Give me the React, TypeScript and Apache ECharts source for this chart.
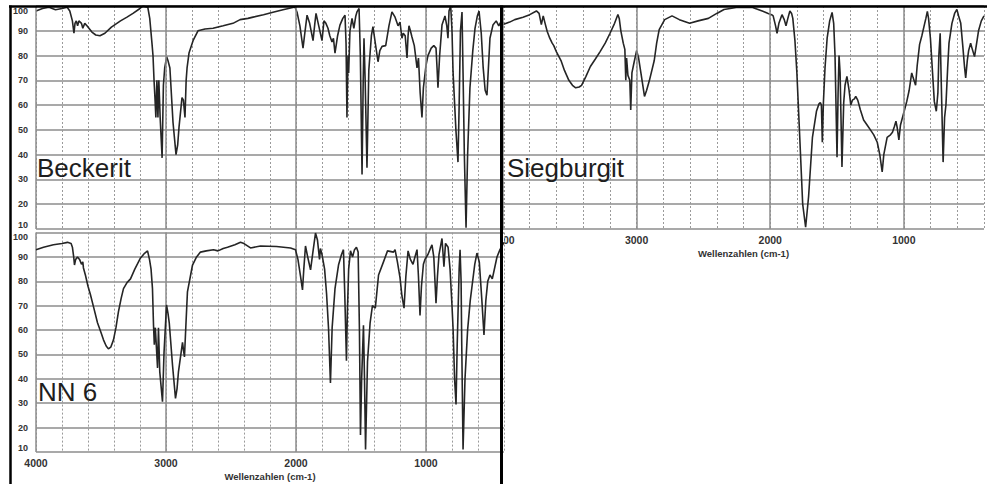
import React, { useEffect, useRef } from "react";
import * as echarts from "echarts";

const FONT = '"Liberation Sans", Arial, Helvetica, sans-serif';

const panelNames = ["Beckerit", "Siegburgit", "NN 6"];
const axisTitle = "Wellenzahlen (cm-1)";

// [wavenumber cm-1, transmission %]
const beckerit: number[][] = [
  [4000, 98], [3950, 99], [3900, 99.5], [3850, 98.5], [3800, 99], [3760, 99.5], [3740, 98], [3720, 94],
  [3708, 89], [3700, 93], [3690, 94], [3680, 92], [3670, 94], [3650, 93], [3640, 91], [3625, 93],
  [3608, 92], [3570, 89.5], [3540, 88.3], [3508, 88], [3470, 89], [3420, 91.5], [3350, 94], [3300, 95.5],
  [3254, 97], [3200, 99], [3177, 100], [3140, 99.5], [3125, 95], [3108, 85], [3100, 80], [3092, 70],
  [3085, 63], [3078, 55], [3070, 70], [3062, 55], [3055, 70], [3045, 55], [3030, 38.7], [3020, 68],
  [3010, 75], [2995, 79.5], [2985, 78], [2970, 75], [2946, 53], [2923, 40], [2910, 44], [2900, 51],
  [2877, 63], [2866, 62], [2854, 55], [2845, 70], [2838, 75], [2823, 81], [2792, 86], [2754, 90],
  [2700, 90.7], [2638, 91], [2560, 92], [2485, 93], [2430, 94.5], [2370, 95], [2330, 95.5], [2250, 96.5],
  [2177, 97.5], [2100, 98.5], [2008, 99.6], [1992, 97.5], [1970, 92], [1946, 83], [1930, 90], [1915, 96.3],
  [1895, 93], [1869, 86], [1855, 93], [1846, 97], [1825, 92], [1800, 86], [1785, 94], [1770, 93],
  [1754, 91], [1740, 88], [1723, 85.5], [1712, 87], [1700, 81], [1680, 88], [1662, 92.3], [1640, 95],
  [1623, 96.3], [1615, 85], [1608, 55], [1600, 80], [1595, 73], [1585, 90], [1569, 95], [1555, 91],
  [1540, 96], [1531, 97.6], [1515, 99], [1505, 80], [1492, 32], [1483, 70], [1477, 87], [1468, 70],
  [1454, 34.7], [1440, 74], [1420, 88], [1408, 91.7], [1390, 85], [1369, 77.5], [1355, 82], [1338, 83.7],
  [1310, 84], [1285, 92], [1262, 97.6], [1238, 95.5], [1215, 92], [1200, 93.5], [1192, 90], [1185, 87],
  [1175, 89], [1160, 88], [1146, 79], [1138, 88], [1131, 92], [1120, 90], [1108, 87.5], [1090, 84],
  [1069, 75], [1058, 79], [1045, 65], [1031, 55], [1020, 67], [1000, 76], [985, 80], [960, 83],
  [940, 84], [923, 83], [915, 75], [908, 67], [895, 80], [877, 92.3], [854, 96], [840, 92],
  [831, 87], [823, 98], [810, 100], [800, 90], [792, 73.5], [770, 50], [754, 37], [745, 60],
  [735, 90], [723, 97.6], [715, 73], [705, 40], [692, 10.5], [680, 40], [662, 67], [640, 82],
  [623, 91], [605, 96], [592, 98], [575, 89], [560, 75], [545, 66], [531, 64], [520, 75],
  [508, 87], [485, 92.3], [460, 94], [440, 92], [420, 94], [405, 93],
];

const siegburgit: number[][] = [
  [4000, 92.5], [3950, 93.5], [3912, 94.5], [3850, 95.5], [3800, 96.5], [3750, 98], [3730, 97], [3713, 92.5],
  [3699, 96], [3685, 93], [3669, 89.7], [3650, 87], [3632, 85], [3620, 84], [3600, 81.5], [3566, 78],
  [3540, 74], [3507, 70], [3480, 68], [3456, 67], [3430, 67.3], [3412, 68], [3380, 71.5], [3346, 75.6],
  [3310, 78.5], [3272, 81.7], [3235, 85], [3199, 89], [3165, 93], [3140, 96.6], [3130, 95], [3118, 90],
  [3100, 85], [3088, 82.5], [3081, 70], [3075, 79], [3065, 72], [3051, 70], [3044, 58], [3035, 73],
  [3020, 77], [3000, 82], [2985, 79], [2965, 72], [2941, 63.5], [2925, 66], [2904, 70], [2868, 78],
  [2850, 85], [2831, 90.5], [2790, 94.5], [2735, 96], [2680, 94.5], [2603, 93], [2540, 94], [2463, 95],
  [2400, 97], [2346, 98.6], [2243, 99.5], [2132, 99.4], [2060, 98], [2015, 97], [1990, 96.5], [1978, 96],
  [1960, 92], [1949, 89], [1935, 93], [1912, 96.5], [1895, 94.5], [1882, 92], [1868, 95], [1853, 98],
  [1840, 97], [1831, 95], [1815, 86], [1801, 73.6], [1779, 47], [1757, 20], [1735, 10.7], [1713, 23],
  [1684, 47], [1654, 57.5], [1635, 60.5], [1625, 61], [1617, 60], [1610, 45], [1602, 61], [1590, 75],
  [1574, 87], [1555, 94], [1537, 97.4], [1525, 93], [1515, 80], [1500, 39], [1492, 65], [1485, 80],
  [1477, 73], [1463, 35], [1450, 61], [1440, 68], [1426, 71.6], [1410, 66], [1397, 60], [1385, 62],
  [1370, 62.5], [1360, 63.5], [1345, 62], [1325, 58], [1301, 54], [1275, 52], [1250, 50], [1225, 48],
  [1199, 45], [1180, 40], [1162, 33], [1150, 40], [1125, 47], [1100, 48], [1085, 49], [1070, 51.5],
  [1059, 53.5], [1050, 51], [1037, 46], [1025, 52], [1000, 57], [978, 61.5], [960, 66], [941, 73],
  [930, 71], [912, 68], [900, 76], [882, 84.5], [865, 88], [846, 92.5], [835, 95], [824, 97.8],
  [815, 95], [801, 87], [785, 73], [772, 61.5], [757, 57.5], [745, 65], [738, 80], [728, 89],
  [722, 74], [706, 37], [695, 55], [685, 60], [672, 75], [662, 85], [640, 93], [620, 97],
  [603, 98.6], [590, 96], [574, 93], [559, 84], [545, 75], [537, 71], [525, 78], [515, 82],
  [500, 85], [490, 83], [471, 79.6], [455, 85], [441, 90], [420, 94], [400, 96],
];

const nn6: number[][] = [
  [4000, 93], [3942, 94], [3866, 95], [3800, 95.5], [3758, 96], [3730, 95.5], [3720, 94], [3710, 90],
  [3704, 86.7], [3695, 89], [3681, 90], [3665, 89], [3650, 87], [3640, 88], [3635, 85.5], [3620, 82.6],
  [3600, 78], [3581, 74.5], [3555, 69], [3527, 63], [3500, 59], [3481, 56], [3460, 53.5], [3443, 52.3],
  [3425, 53], [3404, 56], [3385, 61], [3366, 67.5], [3345, 73], [3327, 77], [3300, 79.5], [3273, 81],
  [3240, 85], [3196, 89.6], [3165, 91.5], [3142, 92.5], [3127, 89], [3115, 85], [3104, 77], [3096, 62],
  [3090, 54], [3082, 61], [3065, 44.5], [3058, 61], [3048, 43], [3027, 30.6], [3015, 51], [2996, 70.3],
  [2985, 67], [2975, 63], [2950, 45.7], [2927, 32], [2915, 36], [2904, 43], [2873, 55], [2866, 52],
  [2858, 49], [2847, 62], [2835, 75.7], [2796, 86.7], [2765, 90], [2735, 92], [2690, 92.5], [2635, 93],
  [2600, 92.5], [2560, 93.5], [2527, 94], [2470, 95], [2427, 96], [2400, 95.5], [2350, 93.7], [2273, 94.5],
  [2150, 94.3], [2042, 93.7], [2004, 93], [1985, 89], [1965, 82], [1950, 76.5], [1940, 85], [1927, 94.5],
  [1910, 90], [1888, 84.7], [1870, 92], [1850, 99.8], [1835, 97], [1819, 89], [1812, 93.5], [1800, 91],
  [1780, 85], [1765, 75], [1750, 61], [1735, 38.3], [1722, 61], [1700, 77], [1673, 86.7], [1650, 91],
  [1635, 93], [1625, 75], [1612, 47.4], [1605, 67], [1595, 85], [1581, 92.5], [1565, 90], [1550, 93],
  [1535, 94], [1522, 92], [1512, 60], [1504, 17], [1495, 40], [1481, 62], [1473, 40], [1465, 11],
  [1450, 47], [1430, 63], [1412, 70], [1390, 69], [1365, 82.6], [1327, 88], [1296, 92.5], [1250, 92],
  [1238, 93], [1220, 88], [1200, 81.5], [1185, 74], [1169, 69], [1155, 82], [1138, 92.5], [1120, 89],
  [1100, 87], [1085, 90], [1069, 93], [1058, 82], [1046, 66], [1035, 78], [1020, 87], [1008, 89],
  [985, 91], [970, 93], [954, 95], [940, 90], [923, 71], [912, 82], [900, 91], [877, 97.6],
  [862, 86], [850, 95.6], [830, 94], [815, 85], [800, 70], [792, 61], [780, 40], [769, 29.5],
  [760, 54], [745, 85], [738, 93], [730, 80], [725, 54], [715, 11], [700, 40], [680, 60],
  [660, 72], [646, 78], [625, 87], [608, 91.6], [590, 88], [570, 72], [554, 58], [540, 72],
  [525, 80], [508, 82.6], [490, 81], [470, 86], [454, 90], [431, 93], [400, 96],
];

const majorTicks = [1000, 2000, 3000, 4000];

export default function App() {
  const ref = useRef<HTMLDivElement>(null);

  useEffect(() => {
    if (!ref.current) return;
    const chart = echarts.init(ref.current, null, { renderer: "svg" });

    const makeX = (gridIndex: number, showLabels: boolean, z: number) => ({
      type: "value",
      gridIndex,
      min: 400,
      max: 4000,
      interval: 200,
      inverse: true,
      z,
      axisLine: { show: false },
      axisTick: { show: false },
      axisLabel: {
        show: showLabels,
        formatter: (v: number) => (v % 1000 === 0 ? String(v) : ""),
        margin: 5,
        fontSize: 10.5,
        fontWeight: "bold",
        color: "#333",
        fontFamily: FONT,
      },
      splitLine: { show: true, lineStyle: { color: "#9a9a9a", width: 1, type: [2, 2] } },
      name: showLabels ? axisTitle : "",
      nameLocation: "middle",
      nameGap: 19,
      nameTextStyle: { fontSize: 9.5, fontWeight: "bold", color: "#333", fontFamily: FONT },
    });

    const makeY = (gridIndex: number, showLabels: boolean, z: number) => ({
      type: "value",
      gridIndex,
      min: 10,
      max: 100,
      interval: 10,
      z,
      axisLine: { show: false },
      axisTick: { show: false },
      axisLabel: {
        show: showLabels,
        margin: 8,
        fontSize: 9,
        fontWeight: "bold",
        color: "#333",
        fontFamily: FONT,
        verticalAlignMinLabel: "bottom",
        verticalAlignMaxLabel: "top",
      },
      splitLine: { show: true, lineStyle: { color: "#8c8c8c", width: 1.6 } },
    });

    const spectrum = (idx: number, data: number[][], z: number) => [
      {
        type: "line",
        xAxisIndex: idx,
        yAxisIndex: idx,
        data,
        showSymbol: false,
        symbol: "none",
        silent: true,
        z: z,
        lineStyle: { opacity: 0 },
        markLine: {
          silent: true,
          symbol: ["none", "none"],
          label: { show: false },
          lineStyle: { color: "#8c8c8c", width: 1.5, type: "solid" },
          data: majorTicks.map((t) => ({ xAxis: t })),
        },
      },
      {
        type: "line",
        name: panelNames[idx],
        xAxisIndex: idx,
        yAxisIndex: idx,
        data,
        showSymbol: false,
        symbol: "none",
        silent: true,
        z: z + 1,
        lineStyle: { color: "#252525", width: 1.6 },
      },
    ];

    const line = (x1: number, y1: number, x2: number, y2: number, w: number) => ({
      type: "line",
      z: 50,
      silent: true,
      shape: { x1, y1, x2, y2 },
      style: { stroke: "#000", lineWidth: w },
    });

    const label = (text: string, x: number, y: number) => ({
      type: "text",
      z: 60,
      silent: true,
      style: {
        text,
        x,
        y,
        fill: "#1e1e1e",
        font: `26px ${FONT}`,
        textAlign: "left",
        textVerticalAlign: "middle",
      },
    });

    chart.setOption({
      animation: false,
      backgroundColor: "#fff",
      grid: [
        { left: 36, top: 6, width: 468, height: 223, z: 0 },
        { left: 503, top: 6, width: 490, height: 223, z: 0 },
        {
          left: 36,
          top: 232.6,
          width: 468,
          height: 219.4,
          show: true,
          backgroundColor: "#fff",
          borderWidth: 0,
          z: 3,
        },
      ],
      xAxis: [makeX(0, false, 1), makeX(1, true, 1), makeX(2, true, 4)],
      yAxis: [makeY(0, true, 1), makeY(1, false, 1), makeY(2, true, 4)],
      series: [...spectrum(0, beckerit, 2), ...spectrum(1, siegburgit, 2), ...spectrum(2, nn6, 5)],
      graphic: [
        line(9, 6.5, 987, 6.5, 2.5),
        line(10.5, 5.5, 10.5, 484, 2.5),
        line(501.5, 5.5, 501.5, 484, 3),
        label(panelNames[0], 37, 168),
        label(panelNames[1], 507, 168),
        label(panelNames[2], 38, 391.5),
      ],
    });

    return () => chart.dispose();
  }, []);

  return (
    <div
      ref={ref}
      style={{ position: "absolute", left: 0, top: 0, width: 987, height: 484, background: "#fff" }}
    />
  );
}
